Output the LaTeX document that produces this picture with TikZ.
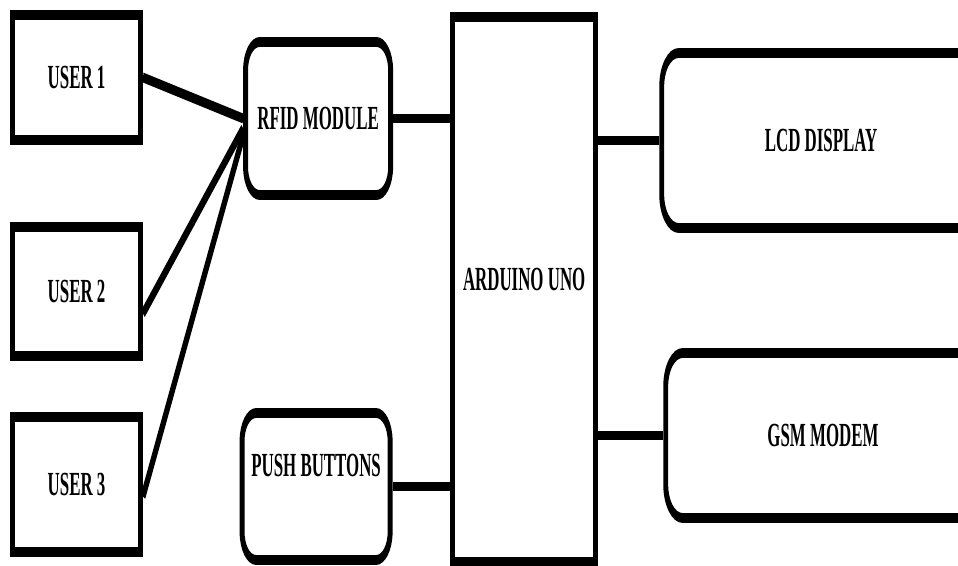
\documentclass[tikz,border=0pt]{standalone}
\usepackage{fontspec}
\setmainfont{Liberation Serif}
\usetikzlibrary{positioning,fit,calc}

\begin{document}
\begin{tikzpicture}[
    x=0.025cm, y=-0.025cm,
    txt/.style={font=\bfseries\fontsize{24}{27}\selectfont},
    box/.style={draw, line width=7pt, inner sep=0pt},
    rbox/.style={box, rounded corners=20pt},
    tag/.style={label={[txt]center:#1}},
    wire/.style={line width=7pt}
]
\useasboundingbox (0,0) rectangle (958,565);
\fill[white] (0,0) rectangle (958,565);
\clip (0,0) rectangle (958,565);

% ---- everything squeezed sideways: thin uprights, thick flats ----
\begin{scope}[x=0.05cm, y=-0.025cm, transform canvas={xscale=0.5}]

% ---- users ----
\node[box, fit={(12.5,15) (140.5,140)}, tag=USER 1] (user1) {};
\node[box, fit={(12.5,227) (140.5,356)}, tag=USER 2] (user2) {};
\node[box, fit={(12.5,417) (140.5,552)}, tag=USER 3] (user3) {};

% ---- inputs ----
\node[rbox, fit={(245.5,42) (390.5,195)}, tag=RFID MODULE] (rfid) {};
\node[rbox, fit={(242,413) (390,560)},
      label={[txt, yshift=15pt]center:PUSH BUTTONS}] (push) {};

% ---- controller ----
\node[box, fit={(452.5,17) (595.5,562)},
      label={[txt, yshift=7pt]center:ARDUINO UNO}] (uno) {};

% ---- outputs ----
\node[rbox, rounded corners=24pt, fit={(661.5,53) (980,228)}, tag=LCD DISPLAY] (lcd) {};
\node[rbox, rounded corners=24pt, fit={(665.5,353) (980,518)}, tag=GSM MODEM] (gsm) {};

% wires
\draw[wire] (user1.east) -- (rfid.west);
\draw[wire] ($(user2.east)+(0,22)$) -- ($(rfid.west)+(0,10)$);
\draw[wire] ($(user3.east)+(0,12)$) -- ($(rfid.west)+(0,17)$);

\draw[wire] (rfid.east) -- (rfid.east -| uno.west);
\draw[wire] (push.east) -- (push.east -| uno.west);
\draw[wire] (lcd.west -| uno.east) -- (lcd.west);
\draw[wire] (gsm.west -| uno.east) -- (gsm.west);

\end{scope}
\end{tikzpicture}
\end{document}
